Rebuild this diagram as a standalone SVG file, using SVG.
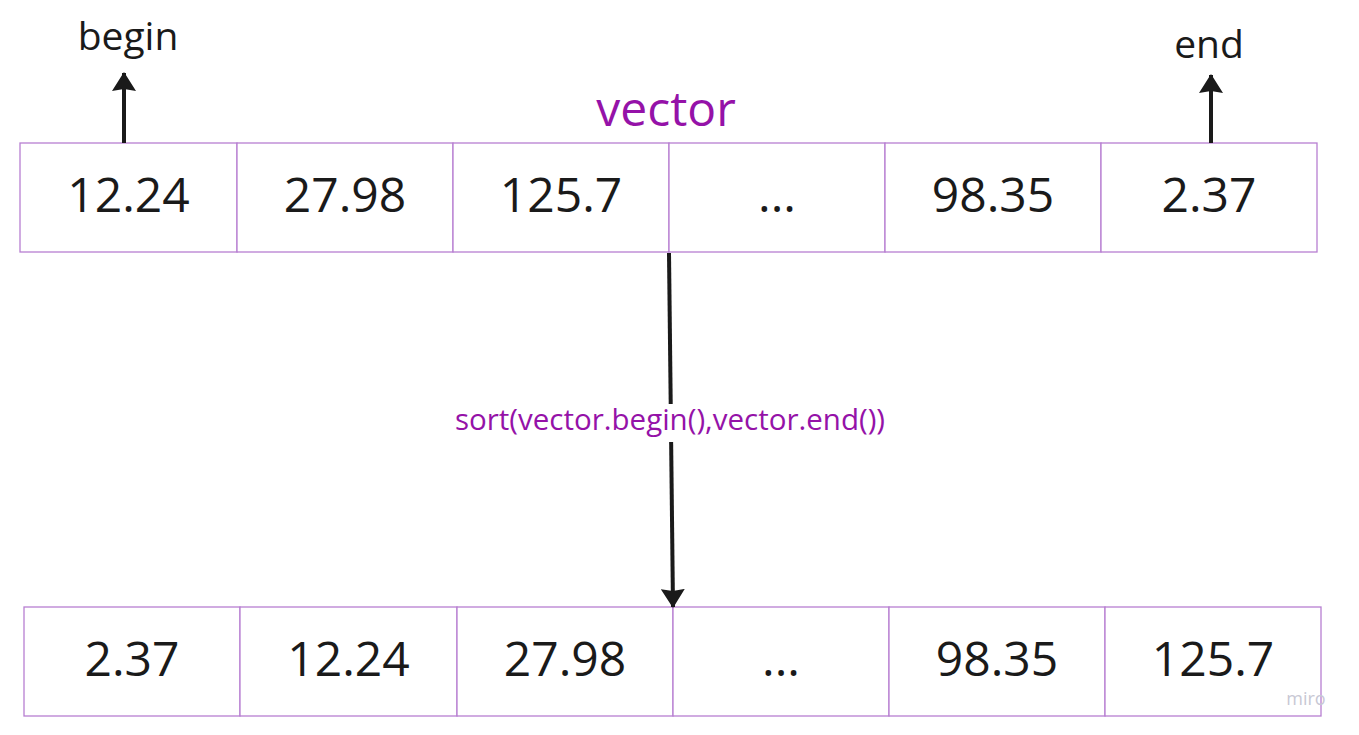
<svg xmlns="http://www.w3.org/2000/svg" width="1359" height="735" viewBox="0 0 1359 735">
<defs>
<marker id="ah" viewBox="0 0 19 24" refX="18" refY="12" markerWidth="19" markerHeight="24" markerUnits="userSpaceOnUse" orient="auto">
<path d="M0,0 L19,12 L0,24 L2,12 Z" fill="#1a1a1a"/>
</marker>
<style>
.cell{fill:#ffffff;stroke:#b77fd1;stroke-width:1.3}
.num{font-family:"Open Sans","Noto Sans",sans-serif;font-size:48px;fill:#1a1a1a;text-anchor:middle}
.lbl{font-family:"Open Sans","Noto Sans",sans-serif;font-size:39px;fill:#1a1a1a;text-anchor:middle}
.conn{stroke:#1a1a1a;stroke-width:4;fill:none;marker-end:url(#ah)}
</style>
</defs>
<rect width="1359" height="735" fill="#ffffff"/>
<g id="title"><text x="666" y="126" style="font-family:'Open Sans','Noto Sans',sans-serif;font-size:48px;fill:#9512a8;text-anchor:middle">vector</text></g>
<g id="begin-label"><text class="lbl" x="128" y="50">begin</text></g>
<g id="end-label"><text class="lbl" x="1209" y="58">end</text></g>
<g id="top-row">
<g id="t1"><rect class="cell" x="20" y="143" width="217" height="109"/><text class="num" x="128.5" y="212">12.24</text></g>
<g id="t2"><rect class="cell" x="237" y="143" width="216" height="109"/><text class="num" x="345" y="212">27.98</text></g>
<g id="t3"><rect class="cell" x="453" y="143" width="216" height="109"/><text class="num" x="561" y="212">125.7</text></g>
<g id="t4"><rect class="cell" x="669" y="143" width="216" height="109"/><text class="num" x="777" y="212">...</text></g>
<g id="t5"><rect class="cell" x="885" y="143" width="216" height="109"/><text class="num" x="993" y="212">98.35</text></g>
<g id="t6"><rect class="cell" x="1101" y="143" width="216" height="109"/><text class="num" x="1209" y="212">2.37</text></g>
</g>
<g id="bottom-row">
<g id="b1"><rect class="cell" x="24" y="607" width="216" height="109"/><text class="num" x="132" y="676">2.37</text></g>
<g id="b2"><rect class="cell" x="240" y="607" width="217" height="109"/><text class="num" x="348.5" y="676">12.24</text></g>
<g id="b3"><rect class="cell" x="457" y="607" width="216" height="109"/><text class="num" x="565" y="676">27.98</text></g>
<g id="b4"><rect class="cell" x="673" y="607" width="216" height="109"/><text class="num" x="781" y="676">...</text></g>
<g id="b5"><rect class="cell" x="889" y="607" width="216" height="109"/><text class="num" x="997" y="676">98.35</text></g>
<g id="b6"><rect class="cell" x="1105" y="607" width="216" height="109"/><text class="num" x="1213" y="676">125.7</text></g>
</g>
<g id="connectors">
<line class="conn" x1="124" y1="143" x2="124" y2="73"/>
<line class="conn" x1="1211" y1="143" x2="1211" y2="75"/>
<line class="conn" x1="669" y1="253" x2="673" y2="607"/>
<rect x="450" y="404" width="440" height="38" fill="#ffffff"/>
<text x="670" y="430" style="font-family:'Open Sans','Noto Sans',sans-serif;font-size:29.5px;fill:#9512a8;text-anchor:middle">sort(vector.begin(),vector.end())</text>
</g>
<text x="1306" y="705" style="font-family:'Open Sans','Noto Sans',sans-serif;font-size:18px;fill:#c8c8d4;text-anchor:middle">miro</text>
</svg>
